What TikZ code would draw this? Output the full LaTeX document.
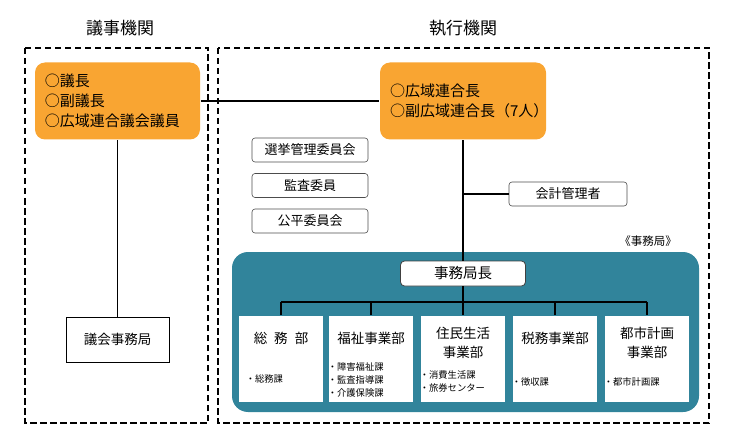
\documentclass[tikz,border=0pt]{standalone}
\usepackage{fontspec}
\setmainfont{Noto Sans CJK JP}
\definecolor{headorange}{HTML}{F9A532}
\definecolor{kyokuteal}{HTML}{31849B}
\begin{document}
\begin{tikzpicture}
[x=1pt,y=-1pt,line width=1.6pt,%
  every node/.style={inner sep=0pt,font=\fontsize{13.5}{16}\selectfont},%
  frame/.style={draw,line width=1.8pt,dash pattern=on 6.5pt off 3.5pt},%
  head/.style={rectangle,rounded corners=10pt,fill=headorange,align=left,
    inner xsep=10pt,minimum height=77pt,font=\fontsize{15}{20}\selectfont},%
  iinkai/.style={rectangle,rounded corners=3pt,draw=black!70,line width=0.6pt,
    minimum width=116pt,minimum height=24pt,font=\fontsize{13}{15}\selectfont},%
  bu/.style={rectangle,fill=white,minimum width=84pt,minimum height=86pt},%
  buname/.style={align=center,font=\fontsize{13.5}{19}\selectfont},%
  ka/.style={anchor=west,align=left,font=\fontsize{9.3}{13}\selectfont}]
\useasboundingbox (0,0) rectangle (742,433);
\draw[frame] (25,48) rectangle (208,423);
\draw[frame] (218,48) rectangle (709,423);
\node[font=\fontsize{17}{19}\selectfont] (giji) at (120,28) {議事機関};
\node[font=\fontsize{17}{19}\selectfont] (shikko) at (463,28) {執行機関};
\node[head,text width=145pt] (gikai) at (117.5,101) {○議長\\○副議長\\○広域連合議会議員};
\node[head,text width=146pt] (rengo) at (463,101) {○広域連合長\\○副広域連合長（7人）};
\draw (gikai) -- (rengo);
\node[draw,line width=0.6pt,minimum width=103pt,minimum height=45pt] (gjimu) at (117.5,339.5) {議会事務局};
\draw (gikai) -- (gjimu);
\node[iinkai] (senkyo) at (310,150) {選挙管理委員会};
\node[iinkai] (kansa) at (310,185.5) {監査委員};
\node[iinkai] (kohei) at (310,221) {公平委員会};
\node[iinkai,minimum width=118pt] (kaikei) at (568,194) {会計管理者};
\node[rectangle,rounded corners=16pt,fill=kyokuteal,minimum width=467pt,minimum height=160pt] (kyoku) at (465.5,332) {};
\node[font=\fontsize{11.5}{13}\selectfont] (kyokulbl) at (648,241) {《事務局》};
\node[rectangle,rounded corners=4pt,fill=white,draw=black!75,line width=0.8pt,
  minimum width=125pt,minimum height=25pt,font=\fontsize{14.5}{16}\selectfont] (chokan) at (463,273.5) {事務局長};
\draw (rengo) -- (chokan);
\draw (rengo.south |- kaikei) -- (kaikei.west);
\node[bu] (somu) at (281,359) {};
\node[bu] (fukushi) at (371,359) {};
\node[bu] (jumin) at (463,359) {};
\node[bu] (zeimu) at (555,359) {};
\node[bu] (toshi) at (647,359) {};
\coordinate (bus) at (463,302);
\draw (chokan) -- (bus);
\draw (somu.north |- bus) -- (toshi.north |- bus);
\foreach \b in {somu,fukushi,jumin,zeimu,toshi}
  \draw (\b.north |- bus) -- (\b.north);
\node[buname] (somu-t) at (281,338) {総\hspace{7pt}務\hspace{7pt}部};
\node[buname] (fukushi-t) at (371,338) {福祉事業部};
\node[buname] (jumin-t) at (463,342.5) {住民生活\\事業部};
\node[buname] (zeimu-t) at (555,338) {税務事業部};
\node[buname] (toshi-t) at (647,343) {都市計画\\事業部};
\node[ka] (somu-k) at (245,379) {・総務課};
\node[ka] (fukushi-k) at (327,380) {・障害福祉課\\・監査指導課\\・介護保険課};
\node[ka] (jumin-k) at (419,381) {・消費生活課\\・旅券センター};
\node[ka] (zeimu-k) at (511,382) {・徴収課};
\node[ka] (toshi-k) at (603,382) {・都市計画課};
\end{tikzpicture}
\end{document}
